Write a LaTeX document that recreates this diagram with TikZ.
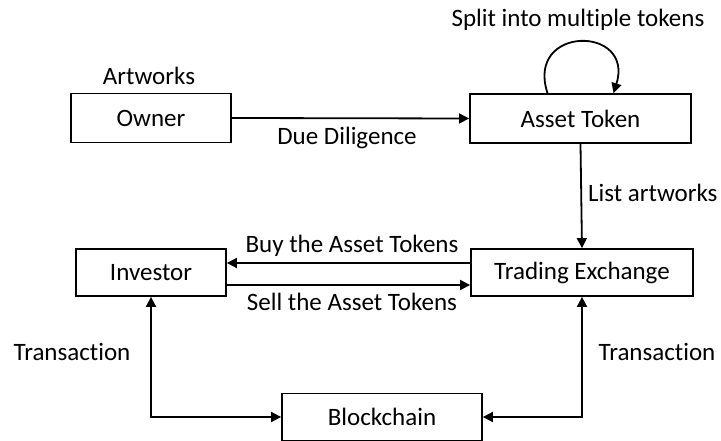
\documentclass[tikz,border=0pt]{standalone}
\usepackage{fontspec}
\setmainfont{Carlito}[Ligatures={NoCommon,NoDiscretionary,NoRare}]
\usetikzlibrary{arrows.meta}
\begin{document}
\begin{tikzpicture}[x=1pt,y=-1pt,
  every node/.style={font=\fontsize{25}{30}\selectfont, inner sep=0pt},
  box/.style={draw, line width=1.8pt, minimum height=47pt},
  lbl/.style={anchor=base},
  arr/.style={line width=1.8pt, -{Triangle[length=10pt,width=10pt]}},
  darr/.style={line width=1.8pt, {Triangle[length=10pt,width=10pt]}-{Triangle[length=10pt,width=10pt]}}]
\useasboundingbox (0,0) rectangle (721,441);

% boxes
\node[box, minimum width=160pt, minimum height=49pt] (owner) at (151,118) {Owner};
\node[box, minimum width=221pt, minimum height=49pt] (asset) at (580.5,118.5) {Asset Token};
\node[box, minimum width=150pt] (inv) at (151,272.5) {Investor};
\node[box, minimum width=222pt] (tex) at (582,272.5) {Trading Exchange};
\node[box, minimum width=200pt] (bc) at (382,417) {Blockchain};

% labels
\node[lbl] (lart) at (149,85) {Artworks};
\node[lbl] (lsplit) at (578,27) {Split into multiple tokens};
\node[lbl] (ldd) at (347,145) {Due Diligence};
\node[lbl, anchor=base west] (llist) at (588,202) {List artworks};
\node[lbl] (lbuy) at (352,252) {Buy the Asset Tokens};
\node[lbl] (lsell) at (352,310) {Sell the Asset Tokens};
\node[lbl] (ltl) at (72,360) {Transaction};
\node[lbl] (ltr) at (657,360) {Transaction};

% connectors (yshift is in canvas units, so positive moves up)
\draw[arr] (owner.east) -- (asset.west);
\draw[arr] ([xshift=-33pt]asset.north) .. controls (525,25) and (635,25) .. ([xshift=33pt]asset.north);
\draw[arr] (asset.south) -- (tex.north);
\draw[arr] ([yshift=9.5pt]tex.west) -- ([yshift=9.5pt]inv.east);
\draw[arr] ([yshift=-12.5pt]inv.east) -- ([yshift=-12.5pt]tex.west);
\draw[darr] (inv.south) |- (bc.west);
\draw[darr] (tex.south) |- (bc.east);
\end{tikzpicture}
\end{document}
